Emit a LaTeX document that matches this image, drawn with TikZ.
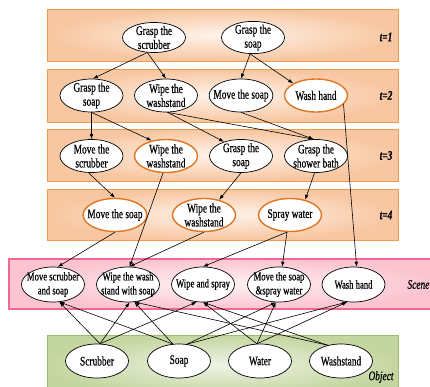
\documentclass[tikz,border=0pt]{standalone}
\usepackage{fontspec}
\setmainfont[FakeStretch=0.72,FakeBold=0.5]{Liberation Serif}
\usetikzlibrary{shapes.geometric,arrows.meta}
\definecolor{bandout}{RGB}{248,198,160}
\definecolor{bandin}{RGB}{254,244,236}
\definecolor{bandline}{RGB}{240,155,80}
\definecolor{scout}{RGB}{251,196,208}
\definecolor{scin}{RGB}{255,242,244}
\definecolor{scline}{RGB}{240,105,150}
\definecolor{obout}{RGB}{196,214,160}
\definecolor{obin}{RGB}{238,243,228}
\definecolor{obline}{RGB}{160,188,115}
\definecolor{ornode}{RGB}{224,118,36}
\begin{document}
\begin{tikzpicture}[x=1pt,y=-1pt,
  ev/.style={ellipse, draw=black, line width=0.7pt, fill=white,
    minimum width=63pt, minimum height=33pt, inner xsep=-5pt, inner ysep=-1.5pt,
    align=center, font=\fontsize{13}{14}\selectfont},
  evo/.style={ev, draw=ornode, line width=1.4pt},
  sc/.style={ev, font=\fontsize{12}{14}\selectfont, minimum height=35pt},
  ob/.style={ev, minimum height=34pt},
  arr/.style={-{Latex[length=5pt,width=3.6pt]}, line width=0.6pt},
  tband/.style={draw=bandline, line width=0.9pt, inner color=bandin, outer color=bandout},
  sband/.style={draw=scline, line width=1.3pt, inner color=scin, outer color=scout},
  oband/.style={draw=obline, line width=0.9pt, inner color=obin, outer color=obout},
  tlab/.style={font=\fontsize{13}{14}\selectfont\bfseries\itshape},
  blab/.style={font=\fontsize{13}{14}\selectfont\itshape}
]
\useasboundingbox (0,0) rectangle (430,386);
\fill[white] (0,0) rectangle (430,386);

% bands
\draw[tband] (47,9) rectangle (398,61);
\draw[tband] (47,69) rectangle (398,122);
\draw[tband] (47,129) rectangle (398,181);
\draw[tband] (47,189) rectangle (398,240);
\draw[sband] (9,259) rectangle (440,309);
\draw[oband] (47,335) rectangle (398,395);

% band labels
\node[tlab] (l1) at (386,37) {t=1};
\node[tlab] (l2) at (386,95.5) {t=2};
\node[tlab] (l3) at (386,155.5) {t=3};
\node[tlab] (l4) at (386,215) {t=4};
\node[blab, anchor=west] (lsc) at (404,284.5) {Scene};
\node[blab, anchor=east] (lob) at (397,377) {Object};

% t=1
\node[ev, minimum height=30pt] (A1) at (154,37.5) {Grasp the\\scrubber};
\node[ev, minimum height=30pt] (A2) at (253,37.5) {Grasp the\\soap};
% t=2
\node[ev] (B1) at (91.5,95.5) {Grasp the\\soap};
\node[ev] (B2) at (166,95.5) {Wipe the\\washstand};
\node[ev] (B3) at (241,95.5) {Move the soap};
\node[evo] (B4) at (316,95.5) {Wash hand};
% t=3
\node[ev] (C1) at (91.5,156) {Move the\\scrubber};
\node[evo] (C2) at (166,156) {Wipe the\\washstand};
\node[ev] (C3) at (241,156) {Grasp the\\soap};
\node[ev] (C4) at (316,156) {Grasp the\\shower bath};
% t=4
\node[evo] (D1) at (115,215) {Move the soap};
\node[evo] (D2) at (204,215) {Wipe the\\washstand};
\node[evo] (D3) at (290,215) {Spray water};
% scene
\node[sc] (S1) at (53,284.5) {Move scrubber\\and soap};
\node[sc] (S2) at (128,284.5) {Wipe the wash\\stand with soap};
\node[sc] (S3) at (203,284.5) {Wipe and spray};
\node[sc] (S4) at (279,284.5) {Move the soap\\\&spray water};
\node[sc] (S5) at (353.5,284.5) {Wash hand};
% object
\node[ob] (O1) at (97,361) {Scrubber};
\node[ob] (O2) at (179,361) {Soap};
\node[ob] (O3) at (260,361) {Water};
\node[ob] (O4) at (341,361) {Washstand};

% t1 -> t2
\draw[arr] (A1.-114) -- (B1.85);
\draw[arr] (A1.-114) -- (B2.north);
\draw[arr] (A2.-100) -- (B3.north);
\draw[arr] (A2.-100) -- (B4.152);
% t2 -> t3
\draw[arr] (B1.south) -- (C1.north);
\draw[arr] (B1.south) -- (C2.133);
\draw[arr] (B2.-85) -- (C3.140);
\draw[arr] (B2.-85) -- (C4.98);
\draw[arr] (B3.south) -- (C4.98);
\draw[arr] (B4.-18) -- (S5.80);
% t3 -> t4
\draw[arr] (C1.-100) -- (D1.north);
\draw[arr] (C2.-100) -- (S2.85);
\draw[arr] (C3.south) -- (D2.45);
\draw[arr] (C4.-95) -- (D3.45);
% t4 -> scene
\draw[arr] (D1.south) -- (S1.75);
\draw[arr] (D2.south) -- (S2.85);
\draw[arr] (D3.-100) -- (S3.north);
\draw[arr] (D3.-100) -- (S4.80);
% object -> scene
\draw[arr] (O1.80) -- (S1.-70);
\draw[arr] (O1.80) -- (S2.-85);
\draw[arr] (O1.80) -- (S3.-110);
\draw[arr] (O2.110) -- (S1.-70);
\draw[arr] (O2.110) -- (S2.-70);
\draw[arr] (O2.65) -- (S4.-100);
\draw[arr] (O2.65) -- (S5.-110);
\draw[arr] (O3.100) -- (S3.-90);
\draw[arr] (O3.100) -- (S4.-100);
\draw[arr] (O3.100) -- (S5.-110);
\draw[arr] (O4.130) -- (S2.-70);
\draw[arr] (O4.130) -- (S3.-90);
\end{tikzpicture}
\end{document}
